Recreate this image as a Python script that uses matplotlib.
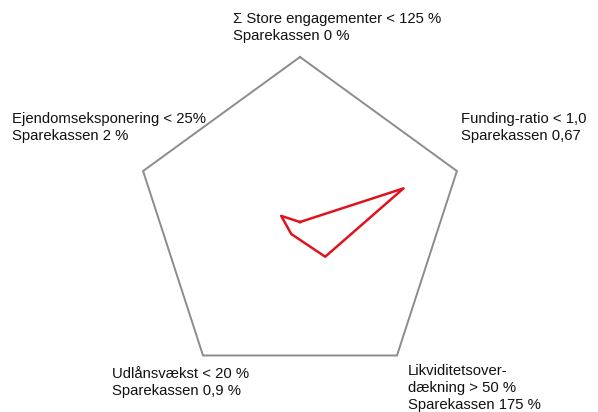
import numpy as np
import matplotlib
matplotlib.use("Agg")
import matplotlib.pyplot as plt

plt.rcParams['font.family'] = ['Liberation Sans', 'DejaVu Sans']

# axes, clockwise from the top
axis_labels = [
    "\u03a3 Store engagementer < 125 %\nSparekassen 0 %",
    "Funding-ratio < 1,0\nSparekassen 0,67",
    "Likviditetsover-\ndækning > 50 %\nSparekassen 175 %",
    "Udlånsvækst < 20 %\nSparekassen 0,9 %",
    "Ejendomseksponering < 25%\nSparekassen 2 %",
]
# share of the limit as drawn (outer pentagon = 1)
sparekassen = [0.0, 0.66, 0.26, 0.09, 0.12]
limit = [1.0, 1.0, 1.0, 1.0, 1.0]

# label anchor (left x, top y) in pixels
label_pos = [(233, 12), (461, 112), (408, 364), (112, 367), (12, 112)]

W, H = 598, 412
fig = plt.figure(figsize=(W / 100, H / 100), dpi=100)

cx, cy, R = 300, 222, 165
ax = fig.add_axes([(cx - R) / W, (H - cy - R) / H, 2 * R / W, 2 * R / H],
                  projection='polar')
ax.set_theta_offset(np.pi / 2)
ax.set_theta_direction(-1)
ax.set_ylim(0, 1)
ax.axis('off')

n = len(limit)
theta = np.linspace(0, 2 * np.pi, n, endpoint=False)
theta_c = np.append(theta, theta[0])

ax.plot(theta_c, limit + limit[:1], color='#8c8c8c', lw=1.4, clip_on=False)
ax.plot(theta_c, sparekassen + sparekassen[:1], color='#e0141e', lw=1.8,
        clip_on=False)

for txt, (x, y) in zip(axis_labels, label_pos):
    fig.text(x / W, 1 - y / H, txt, ha='left', va='top', fontsize=10.7,
             linespacing=1.25, color='#111111')

fig.savefig("out.png", dpi=100)
